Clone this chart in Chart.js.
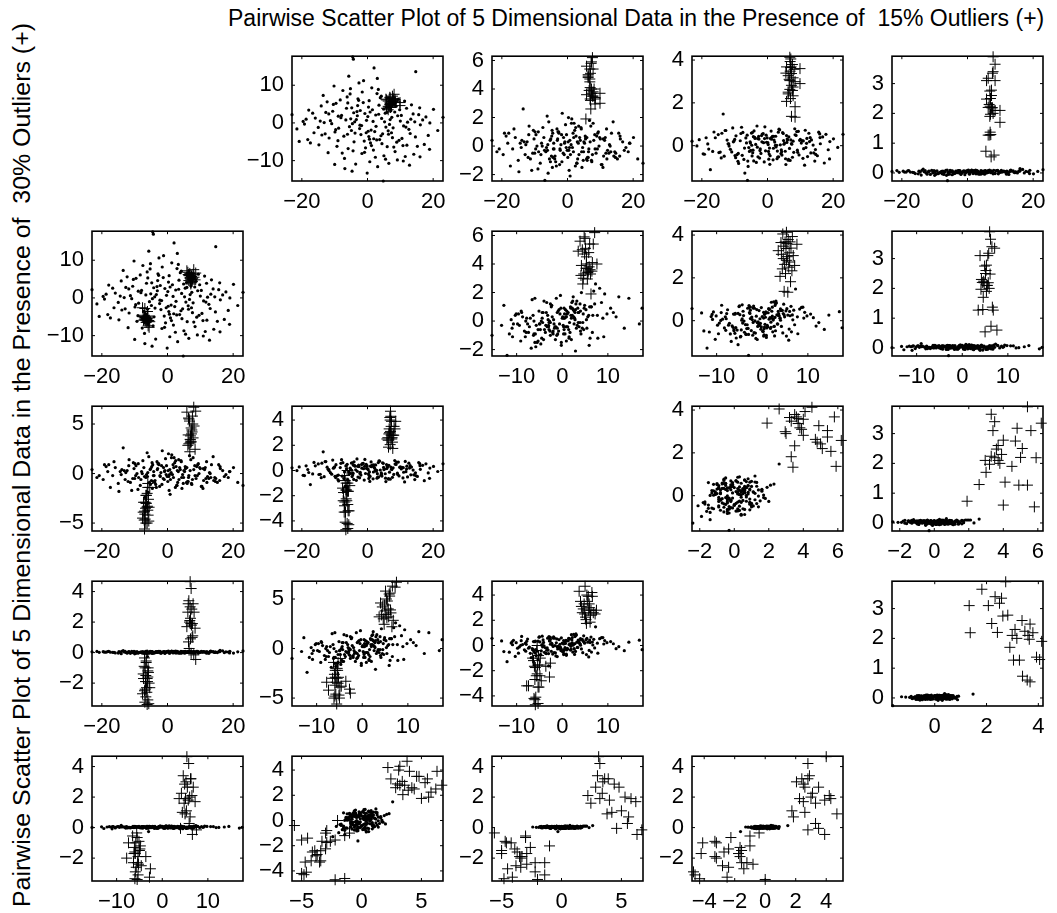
<!DOCTYPE html>
<html><head><meta charset="utf-8">
<script src="https://cdn.jsdelivr.net/npm/chart.js@4/dist/chart.umd.min.js"></script>
<style>
html,body{margin:0;padding:0;background:#fff}
body{width:1057px;height:913px;overflow:hidden;position:relative;font-family:"Liberation Sans",Arial,sans-serif;color:#000}
canvas.p{position:absolute}
#title{position:absolute;left:228px;top:4px;font-size:23px;white-space:pre;line-height:28px}
#ylab{position:absolute;left:8px;top:907px;font-size:23px;white-space:pre;line-height:28px;transform-origin:0 0;transform:rotate(-90deg) scaleX(1.083)}
</style></head>
<body>
<div id="title">Pairwise Scatter Plot of 5 Dimensional Data in the Presence of  15% Outliers (+)</div>
<div id="ylab">Pairwise Scatter Plot of 5 Dimensional Data in the Presence of  30% Outliers (+)</div>
<script>
// ---- shared inlier sample (5 dimensions) ----
const inD1 = [-23.0,-4.5,-4.3,4.8,-4.7,2.0,14.7,23.0,-18.2,-17.4,
-15.9,-13.5,-11.3,-12.7,-10.9,-9.6,-8.8,-7.5,-6.4,-5.9,
-5.1,-3.8,-2.9,-1.7,-0.8,0.4,1.3,2.6,3.5,4.4,
5.2,6.3,7.1,8.4,9.2,10.5,11.3,12.6,13.9,15.2,
16.8,18.5,20.1,-19.6,-16.3,-14.1,-12.0,-10.2,-9.0,-7.9,
-7.0,-6.2,-5.5,-4.8,-4.1,-3.4,-2.6,-2.0,-1.3,-0.6,
0.1,0.7,1.5,2.2,2.9,3.7,4.3,5.0,5.8,6.7,
7.6,8.3,9.1,10.0,10.8,11.9,13.0,14.1,15.6,17.3,
19.0,21.4,-20.8,-17.9,-15.0,-13.2,-11.7,-10.6,-9.3,-8.3,
-7.2,-6.6,-5.7,-4.9,-4.2,-3.6,-3.0,-2.3,-1.6,-1.0,
-0.3,0.5,1.1,1.8,2.5,3.1,3.9,4.6,5.4,6.0,
6.9,7.8,8.7,9.6,10.3,11.5,12.2,13.4,14.6,16.1,
17.8,18.9,-21.5,-18.7,-14.8,-12.3,-9.9,-8.1,-6.9,-5.3,
-4.4,-3.2,-2.4,-1.2,-0.4,0.3,0.9,1.7,2.4,3.3,
4.1,4.9,5.6,6.5,7.4,8.0,9.4,11.0,12.8,14.4,
-6.1,0.8,16.0,-10.0,
-2.2,1.9,-8.9,6.1,-13.9,11.7,-0.9,3.4,-5.2,8.9,
-16.7,0.2,-3.9,5.5,-10.4,13.2,-1.8,2.8,-7.7,9.8,
-12.9,4.2,-0.1,-6.0,7.3,-19.2,15.9,-3.1,1.2,-9.7,
10.9,-4.6,3.0,-11.8,6.4,-2.7,0.6,12.0,-14.4,5.9];
const inD2 = [2.2,17.5,16.9,-15.4,-12.8,14.6,13.6,1.5,-4.4,-5.3,
1.3,7.3,0.6,2.8,-0.2,5.2,-1.4,8.6,3.9,-6.8,
1.1,-2.7,6.4,-8.1,2.5,-3.6,9.3,-0.9,4.7,-5.5,
0.3,-2.1,3.2,-7.6,1.9,-4.1,5.8,-1.7,2.4,-6.2,
0.8,-3.3,3.6,0.4,-2.6,4.5,-7.9,9.8,-4.7,2.0,
-9.4,6.9,-1.0,4.0,-5.0,0.9,10.6,-3.1,5.4,-6.6,
1.7,-10.3,3.5,-2.3,7.8,-4.4,1.2,-8.7,4.1,-0.4,
-3.9,2.9,-9.8,0.5,-6.0,3.9,-2.8,-8.3,2.2,-5.7,
0.0,-2.0,-4.9,3.4,-1.2,0.1,-4.0,3.1,-6.2,6.1,
-3.5,0.8,12.4,-2.0,2.7,-10.9,4.6,-0.6,8.2,-4.8,
0.7,5.9,-1.9,-7.2,2.1,-11.6,6.7,-2.9,2.6,-6.3,
0.9,-1.3,4.4,-4.6,2.0,-8.9,0.2,4.8,-3.7,-0.5,
1.6,-7.0,-1.6,1.0,-5.8,5.6,-2.4,1.4,-12.1,7.7,
-7.4,3.0,-1.5,11.2,-2.6,4.2,-5.3,0.4,-9.1,8.9,
-3.4,3.7,-1.1,-10.7,1.5,-6.4,6.3,-0.8,-11.2,0.3,
-3.0,2.9,-9.0,-11.0,
3.3,-4.2,1.8,6.6,-3.2,-1.1,-7.8,2.3,9.1,-5.1,
2.6,-2.2,0.3,-9.6,4.9,1.0,-0.7,-4.5,-8.0,3.5,
-2.9,7.1,-13.3,5.3,-2.6,-0.3,4.0,1.9,-6.0,-1.8,
-10.1,-0.2,11.8,2.4,-3.0,6.0,-4.3,-5.9,0.5,2.8];
const inD3 = [0.4,0.9,-0.2,-1.0,1.1,1.6,-0.5,-1.2,0.2,-1.4,
0.6,2.6,-0.9,0.1,-1.7,0.8,-0.4,1.3,-0.1,-1.9,
0.5,-0.7,1.0,-1.1,0.3,-0.3,1.9,0.7,-0.6,-1.5,
0.2,-0.8,1.4,-0.2,0.9,-1.3,0.4,-0.5,1.7,-0.9,
0.3,-0.4,0.6,-0.6,1.2,-0.1,-0.8,0.5,-1.6,0.2,
-0.3,2.1,-0.9,0.7,-0.2,-1.4,0.9,0.1,-0.5,1.5,
-0.8,0.4,-0.1,1.1,-1.2,0.6,-0.4,0.3,-0.9,1.8,
-0.6,0.8,-0.2,0.5,-1.5,1.2,0.0,-0.7,0.9,-0.3,
0.2,-0.9,-0.2,0.9,-1.0,0.3,1.4,-0.5,0.0,-1.2,
0.6,-0.4,1.7,-0.7,0.2,-1.1,0.5,-0.2,2.3,-0.6,
0.8,-1.7,0.1,-0.4,1.3,-0.9,0.4,-0.1,0.7,-1.0,
0.3,1.6,-0.5,0.0,-1.3,0.6,-0.3,0.9,-0.8,0.5,
-0.1,0.2,-0.4,0.7,-1.8,0.3,1.0,-0.6,-2.4,0.4,
-0.8,1.2,-1.3,0.6,-0.1,2.0,-0.6,0.9,-1.4,0.2,
1.3,-0.4,0.6,-0.2,-1.1,0.4,1.0,-0.7,0.1,-0.4,
-0.3,-2.1,0.7,-0.5,
-0.3,0.6,1.0,-0.8,0.4,-0.5,0.2,1.4,-1.1,0.7,
-0.2,0.3,-0.9,0.5,1.1,-0.4,0.8,-1.2,0.0,0.6,
-0.6,1.2,-0.3,0.1,-1.0,0.9,-0.7,0.4,1.6,-0.2,
0.5,-1.5,0.3,0.8,-0.4,1.0,-0.1,-0.9,0.2,0.6];
const inD4 = [0.21,-0.33,0.42,0.57,-0.48,0.26,-0.41,0.53,0.08,-1.12,
0.37,1.48,-0.17,0.71,-0.29,0.46,-0.83,0.62,0.13,-0.97,
-0.22,0.34,-0.52,0.18,0.88,-0.63,0.39,-0.06,0.77,-0.44,
0.12,-0.68,0.27,0.51,-0.31,0.24,-0.91,0.58,0.03,-0.47,
0.41,-0.19,0.32,-0.38,0.64,-0.57,0.09,0.22,-0.73,0.86,
-0.11,0.49,-0.27,0.02,0.69,-0.78,0.31,-0.36,0.56,-0.24,
0.14,-0.87,0.43,0.17,-0.61,0.74,-0.28,0.07,0.47,-0.13,
-0.54,0.79,-0.21,0.29,-0.59,0.11,0.38,-0.34,0.63,-0.81,
0.19,-0.08,0.28,-0.16,0.52,-0.49,-0.02,0.83,-0.42,0.23,
-0.64,0.36,-0.09,0.59,-0.71,0.06,0.33,-0.23,0.54,-0.76,
0.16,-0.39,0.68,-0.12,0.44,-0.53,0.04,0.61,-0.26,0.31,
-0.69,0.21,0.48,-0.43,0.12,0.72,-0.51,0.27,-0.18,0.09,
0.53,-0.62,-0.01,0.37,-0.32,0.26,-0.46,0.57,-1.28,0.18,
-0.21,0.92,-0.58,0.14,0.49,-0.27,0.34,-0.66,0.01,0.63,
-0.37,0.24,-0.88,0.41,0.07,-0.31,0.67,-0.14,0.19,-0.72,
-1.62,-0.47,0.38,0.29,
-0.15,0.44,-0.36,0.27,0.58,-0.09,0.33,-0.52,0.12,0.66,
-0.27,0.05,0.39,-0.61,0.18,-0.34,0.47,0.02,-0.45,0.25,
0.71,-0.19,0.36,-0.72,0.1,-0.4,0.55,-0.07,0.3,-0.56,
0.22,0.61,-0.25,0.08,-0.64,0.43,-0.11,0.34,-0.3,0.15];
const inD5 = [0.05,0.02,-0.03,0.01,-0.06,0.08,0.04,0.11,0.07,0.03,
-0.02,0.13,-0.05,0.01,0.09,-0.04,0.0,0.06,-0.08,0.02,
0.04,-0.01,0.07,0.03,-0.06,0.05,0.1,-0.03,0.02,0.06,
-0.04,0.08,0.01,-0.02,0.09,0.03,0.05,-0.05,0.07,0.0,
0.12,0.04,-0.03,0.06,0.01,-0.07,0.03,0.08,-0.02,0.05,
0.02,0.1,-0.04,0.06,0.0,0.03,0.07,-0.05,0.04,0.01,
0.09,-0.02,0.05,0.0,0.08,0.02,-0.03,0.06,0.03,0.1,
0.04,-0.01,0.07,0.02,0.05,-0.04,0.08,0.03,0.06,0.0,
0.09,0.05,0.02,0.08,-0.03,0.04,0.06,0.0,0.07,0.03,
-0.05,0.09,0.01,0.05,-0.02,0.06,0.03,0.08,0.0,0.04,
0.07,-0.01,0.05,0.02,0.1,0.06,-0.04,0.03,0.08,0.01,
0.05,-0.03,0.07,0.02,0.09,0.04,0.0,0.06,0.03,0.1,
0.05,-0.02,0.08,0.03,0.06,-0.04,0.05,0.01,0.04,0.09,
0.02,0.06,-0.01,0.07,0.03,0.1,0.04,-0.02,0.06,0.02,
0.08,0.05,0.0,0.07,0.03,0.09,-0.03,0.06,0.04,0.01,
-0.26,0.02,0.15,-0.08,
0.03,0.07,-0.02,0.05,0.09,0.01,0.06,-0.04,0.04,0.08,
0.02,0.05,-0.01,0.07,0.03,0.1,0.0,0.06,-0.03,0.04,
0.08,0.02,0.05,-0.05,0.07,0.03,0.06,0.01,0.09,-0.02,
0.04,0.07,0.0,0.05,0.02,0.08,-0.04,0.06,0.03,0.01];

// ---- 15% outliers (upper triangle) ----
const outA1 = [8.4,7.3,8.4,5.8,7.0,7.8,6.3,6.3,7.6,6.8,7.8,7.3,9.9,8.4,6.8,6.6,7.8,6.3,7.3,5.6,6.9,8.1,9.9,7.0,5.8,7.2,7.6,6.9,7.1,6.8];
const outA2 = [5.6,4.8,6.2,3.9,5.1,6.5,4.4,5.8,7.1,4.9,6.0,5.3,4.6,5.5,6.8,4.2,5.9,3.5,5.2,6.3,4.7,7.6,5.4,4.1,6.1,5.0,5.7,6.6,4.5,5.3];
const outA3 = [3.4,5.9,3.3,5.6,5.1,3.5,5.0,4.8,6.2,4.7,5.4,4.0,3.0,2.95,5.4,3.9,3.8,4.9,3.7,1.9,3.3,4.0,3.7,3.2,3.6,5.8,3.5,4.1,2.6,4.5];
const outA4 = [1.33,1.37,1.82,2.07,2.2,2.33,2.42,2.5,2.58,2.63,2.74,2.82,2.9,2.99,3.04,3.1,3.17,3.27,3.37,3.39,3.48,3.57,3.6,3.65,3.68,3.68,3.79,3.93,4.05,4.13];
const outA5 = [3.1,2.19,3.65,3.1,2.5,3.4,2.2,3.18,3.35,2.75,3.9,2.78,1.7,2.1,1.27,2.3,2.0,1.27,2.6,0.73,2.24,0.6,2.1,1.97,2.48,0.54,2.19,1.37,1.29,1.9];

// ---- 30% outliers (lower triangle) ----
const outB1 = [7.2,6.5,7.8,6.9,7.4,6.2,8.1,7.0,6.7,7.6,5.9,8.4,7.3,6.8,7.1,7.7,6.4,7.5,8.0,6.6,7.2,8.6,6.9,7.0,6.3,
-6.8,-6.2,-7.1,-5.9,-6.5,-7.4,-6.0,-6.7,-5.6,-7.0,-6.3,-6.9,-5.8,-6.6,-7.3,-6.1,-6.4,-5.4,-7.6,-6.8,-6.0,-6.5,-7.0,-5.7,-6.2,-6.6,-6.0];
const outB2 = [5.8,4.6,6.3,5.2,4.9,6.8,5.5,4.2,6.0,5.1,7.2,4.8,5.7,6.5,3.7,5.3,6.1,4.4,7.5,5.9,4.0,6.6,5.4,5.0,6.2,
-5.8,-6.2,-5.1,-7.4,-5.5,-4.9,-6.0,-5.3,-7.8,-4.6,-5.7,-2.8,-6.1,-5.0,-5.9,-3.6,-5.4,-6.3,-2.6,-5.2,-4.8,-6.5,-5.6,-6.0,-5.5,-5.9,-5.3];
const outB3 = [3.2,3.0,3.6,3.45,4.4,2.85,4.8,3.4,5.3,5.8,6.2,2.45,4.0,2.2,3.2,5.0,5.6,4.2,6.7,5.5,4.6,6.3,3.1,3.8,3.9,
-4.6,-5.0,-4.7,-4.2,-3.0,-3.9,-3.7,-3.5,-3.4,-3.8,-3.4,-4.1,-2.6,-5.0,-2.9,-3.3,-2.2,-1.4,-4.5,-2.9,-1.0,-3.0,-5.6,-4.8,-2.0,-2.2,-1.4];
const outB4 = [2.8,2.9,2.8,2.05,2.5,2.6,3.5,3.1,3.0,2.25,2.5,3.3,3.9,4.2,4.3,1.75,1.85,2.6,2.8,3.3,3.5,3.9,4.0,4.7,2.4,
-4.1,-4.2,-3.3,-3.2,-2.25,-2.4,-2.7,-3.3,-3.2,-2.8,-2.4,-2.5,-1.65,-1.55,-1.75,-1.65,-1.55,-1.2,-1.4,-0.8,-1.0,-1.0,-0.4,-4.3,0.0,-4.7,-4.6];
const outB5 = [4.2,3.4,3.2,3.0,2.85,2.65,2.65,2.25,2.0,1.9,1.7,1.6,1.8,2.1,1.9,1.1,0.7,1.0,-0.15,0.27,-0.05,-0.45,4.65,0.9,3.2,
-1.0,-1.7,-0.9,-1.0,-0.65,-1.4,-1.6,-1.9,-2.0,-2.5,-2.6,-3.25,-1.3,-1.5,-1.7,-1.9,-2.3,-2.3,-2.7,-2.4,-1.2,-0.55,-0.35,-3.35,-3.4,-2.9,-3.1];

// ---- axis limits and tick labels per dimension ----
const limA = [[-23,23],[-15.4,17.7],[-2.45,6.3],[-1.65,4.18],[-0.27,3.92]];
const limB = [[-23,23],[-15.4,17.7],[-5.8,6.8],[-4.8,5.1],[-3.5,4.68]];
const ticksA = [[-20,0,20],[-10,0,10],[-2,0,2,4,6],[0,2,4],[0,1,2,3]];
const ticksB = [[-20,0,20],[-10,0,10],[-5,0,5],[-4,-2,0,2,4],[-2,0,2,4]];

const inliers = [inD1,inD2,inD3,inD4,inD5];
const outA = [outA1,outA2,outA3,outA4,outA5];
const outB = [outB1,outB2,outB3,outB4,outB5];

const pairs = [[0,1],[0,2],[0,3],[0,4],[1,2],[1,3],[1,4],[2,3],[2,4],[3,4]];
const lowerCells = [[1,0],[2,0],[2,1],[3,0],[3,1],[3,2],[4,0],[4,1],[4,2],[4,3]];

// layout
const colLeft = [92,292,492,692,892];
const rowTop = [49,224,399,574,749];
const BW = 151, BH = 132;
const PADL = 60, PADT = 14, PADR = 16, PADB = 38;

Chart.defaults.font.family = '"Liberation Sans", Arial, sans-serif';
Chart.defaults.font.size = 22;
Chart.defaults.color = '#000';

const fmt = v => (v < 0 ? '\u2212' + Math.abs(v) : String(v));

const boxPlugin = {
  id: 'mbox',
  beforeDatasetsDraw(chart) {
    const {ctx, chartArea: a, scales: {x, y}} = chart;
    ctx.save();
    ctx.strokeStyle = '#000';
    ctx.lineWidth = 1.6;
    ctx.strokeRect(a.left, a.top, a.right - a.left, a.bottom - a.top);
    ctx.lineWidth = 1;
    ctx.beginPath();
    x.ticks.forEach(t => {
      const p = x.getPixelForValue(t.value);
      ctx.moveTo(p, a.bottom); ctx.lineTo(p, a.bottom - 3);
      ctx.moveTo(p, a.top); ctx.lineTo(p, a.top + 3);
    });
    y.ticks.forEach(t => {
      const p = y.getPixelForValue(t.value);
      ctx.moveTo(a.left, p); ctx.lineTo(a.left + 3, p);
      ctx.moveTo(a.right, p); ctx.lineTo(a.right - 3, p);
    });
    ctx.stroke();
    ctx.restore();
  }
};

function pts(xs, ys) { return xs.map((v, i) => ({x: v, y: ys[i]})); }

function makePanel(row, col, outs, dx, dy, lim, tks) {
  const cv = document.createElement('canvas');
  cv.className = 'p';
  const w = PADL + BW + PADR, h = PADT + BH + PADB;
  cv.width = w; cv.height = h;
  cv.style.left = (colLeft[col] - PADL) + 'px';
  cv.style.top = (rowTop[row] - PADT) + 'px';
  cv.style.width = w + 'px'; cv.style.height = h + 'px';
  document.body.appendChild(cv);
  new Chart(cv, {
    type: 'scatter',
    data: {
      datasets: [
        {data: pts(inliers[dx], inliers[dy]), pointStyle: 'circle', pointRadius: 1.6, backgroundColor: '#000', borderWidth: 0, clip: false},
        {data: pts(outs[dx], outs[dy]), pointStyle: 'cross', pointRadius: 5.5, borderColor: '#000', borderWidth: 1, backgroundColor: '#000', clip: false}
      ]
    },
    options: {
      animation: false, responsive: false, devicePixelRatio: 1, events: [],
      layout: {padding: {left: 0, top: PADT, right: PADR, bottom: 0}, autoPadding: false},
      plugins: {legend: {display: false}, tooltip: {enabled: false}},
      elements: {point: {hoverRadius: 0}},
      scales: {
        x: {
          type: 'linear', min: lim[dx][0], max: lim[dx][1],
          afterBuildTicks: s => { s.ticks = tks[dx].map(v => ({value: v})); },
          afterFit: s => { s.height = PADB; },
          grid: {display: false, drawTicks: false}, border: {display: false},
          ticks: {autoSkip: false, maxRotation: 0, minRotation: 0, padding: 8, callback: v => fmt(v)}
        },
        y: {
          type: 'linear', min: lim[dy][0], max: lim[dy][1],
          afterBuildTicks: s => { s.ticks = tks[dy].map(v => ({value: v})); },
          afterFit: s => { s.width = PADL; },
          grid: {display: false, drawTicks: false}, border: {display: false},
          ticks: {autoSkip: false, padding: 8, callback: v => fmt(v)}
        }
      }
    },
    plugins: [boxPlugin]
  });
}

// upper triangle: 15% outliers, cell (i,j) shows dim i (x) vs dim j (y)
pairs.forEach(([i, j]) => makePanel(i, j, outA, i, j, limA, ticksA));
// lower triangle: 30% outliers
pairs.forEach(([i, j], k) => {
  const [r, c] = lowerCells[k];
  makePanel(r, c, outB, i, j, limB, ticksB);
});
</script>
</body></html>
